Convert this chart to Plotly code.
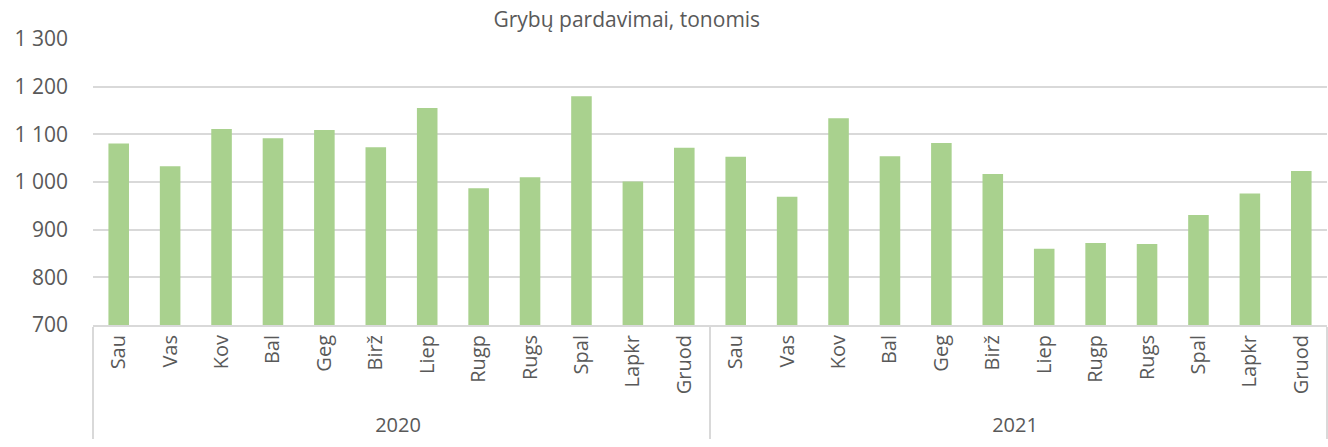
import plotly.graph_objects as go

# Monthly mushroom sales, tonnes
MONTHS = ["Sau", "Vas", "Kov", "Bal", "Geg", "Birž",
          "Liep", "Rugp", "Rugs", "Spal", "Lapkr", "Gruod"]
YEARS = ["2020", "2021"]

SALES_2020 = [1081, 1033, 1111, 1092, 1109, 1073, 1155, 987, 1010, 1180, 1001, 1072]
SALES_2021 = [1053, 969, 1134, 1054, 1082, 1017, 860, 872, 870, 931, 976, 1023]

Y_TICKS = [700, 800, 900, 1000, 1100, 1200, 1300]
Y_TICK_TEXT = ["700", "800", "900", "1 000", "1 100", "1 200", "1 300"]

BAR_GREEN = "#A9D18E"
GRID = "#D9D9D9"
LABEL = "#595959"
FONT = "Open Sans, sans-serif"

x_year = [YEARS[0]] * len(MONTHS) + [YEARS[1]] * len(MONTHS)
x_month = MONTHS + MONTHS
values = SALES_2020 + SALES_2021

fig = go.Figure(go.Bar(
    x=[x_year, x_month], y=values,
    marker=dict(color=BAR_GREEN, line=dict(width=0)),
    hovertemplate="%{x}: %{y}<extra></extra>",
))

fig.update_layout(
    width=1328, height=447,
    margin=dict(l=93, r=1, t=39, b=122, autoexpand=False),
    paper_bgcolor="white", plot_bgcolor="white",
    bargap=0.6,
    showlegend=False,
    font=dict(family=FONT, color=LABEL, size=19),
    title=dict(text="Grybų pardavimai, tonomis", x=0.472, xanchor="center",
               y=0.955, yanchor="middle", font=dict(size=21, color=LABEL)),
)
fig.update_yaxes(
    range=[700, 1300], tickvals=Y_TICKS, ticktext=Y_TICK_TEXT,
    showgrid=True, gridcolor=GRID, gridwidth=2, zeroline=False,
    showline=False, ticks="", ticklabelstandoff=24, automargin=False,
    tickfont=dict(size=21, color=LABEL),
)
fig.update_xaxes(
    type="multicategory", tickangle=-90, automargin=False,
    showline=True, linecolor=GRID, linewidth=2,
    dividercolor=GRID, dividerwidth=2,
    ticks="", tickfont=dict(size=20, color=LABEL),
)

# drop the default body margin so the figure sits flush in the window
fig.write_html("out.html", config={"displayModeBar": False},
               post_script="document.body.style.margin = '0';")
